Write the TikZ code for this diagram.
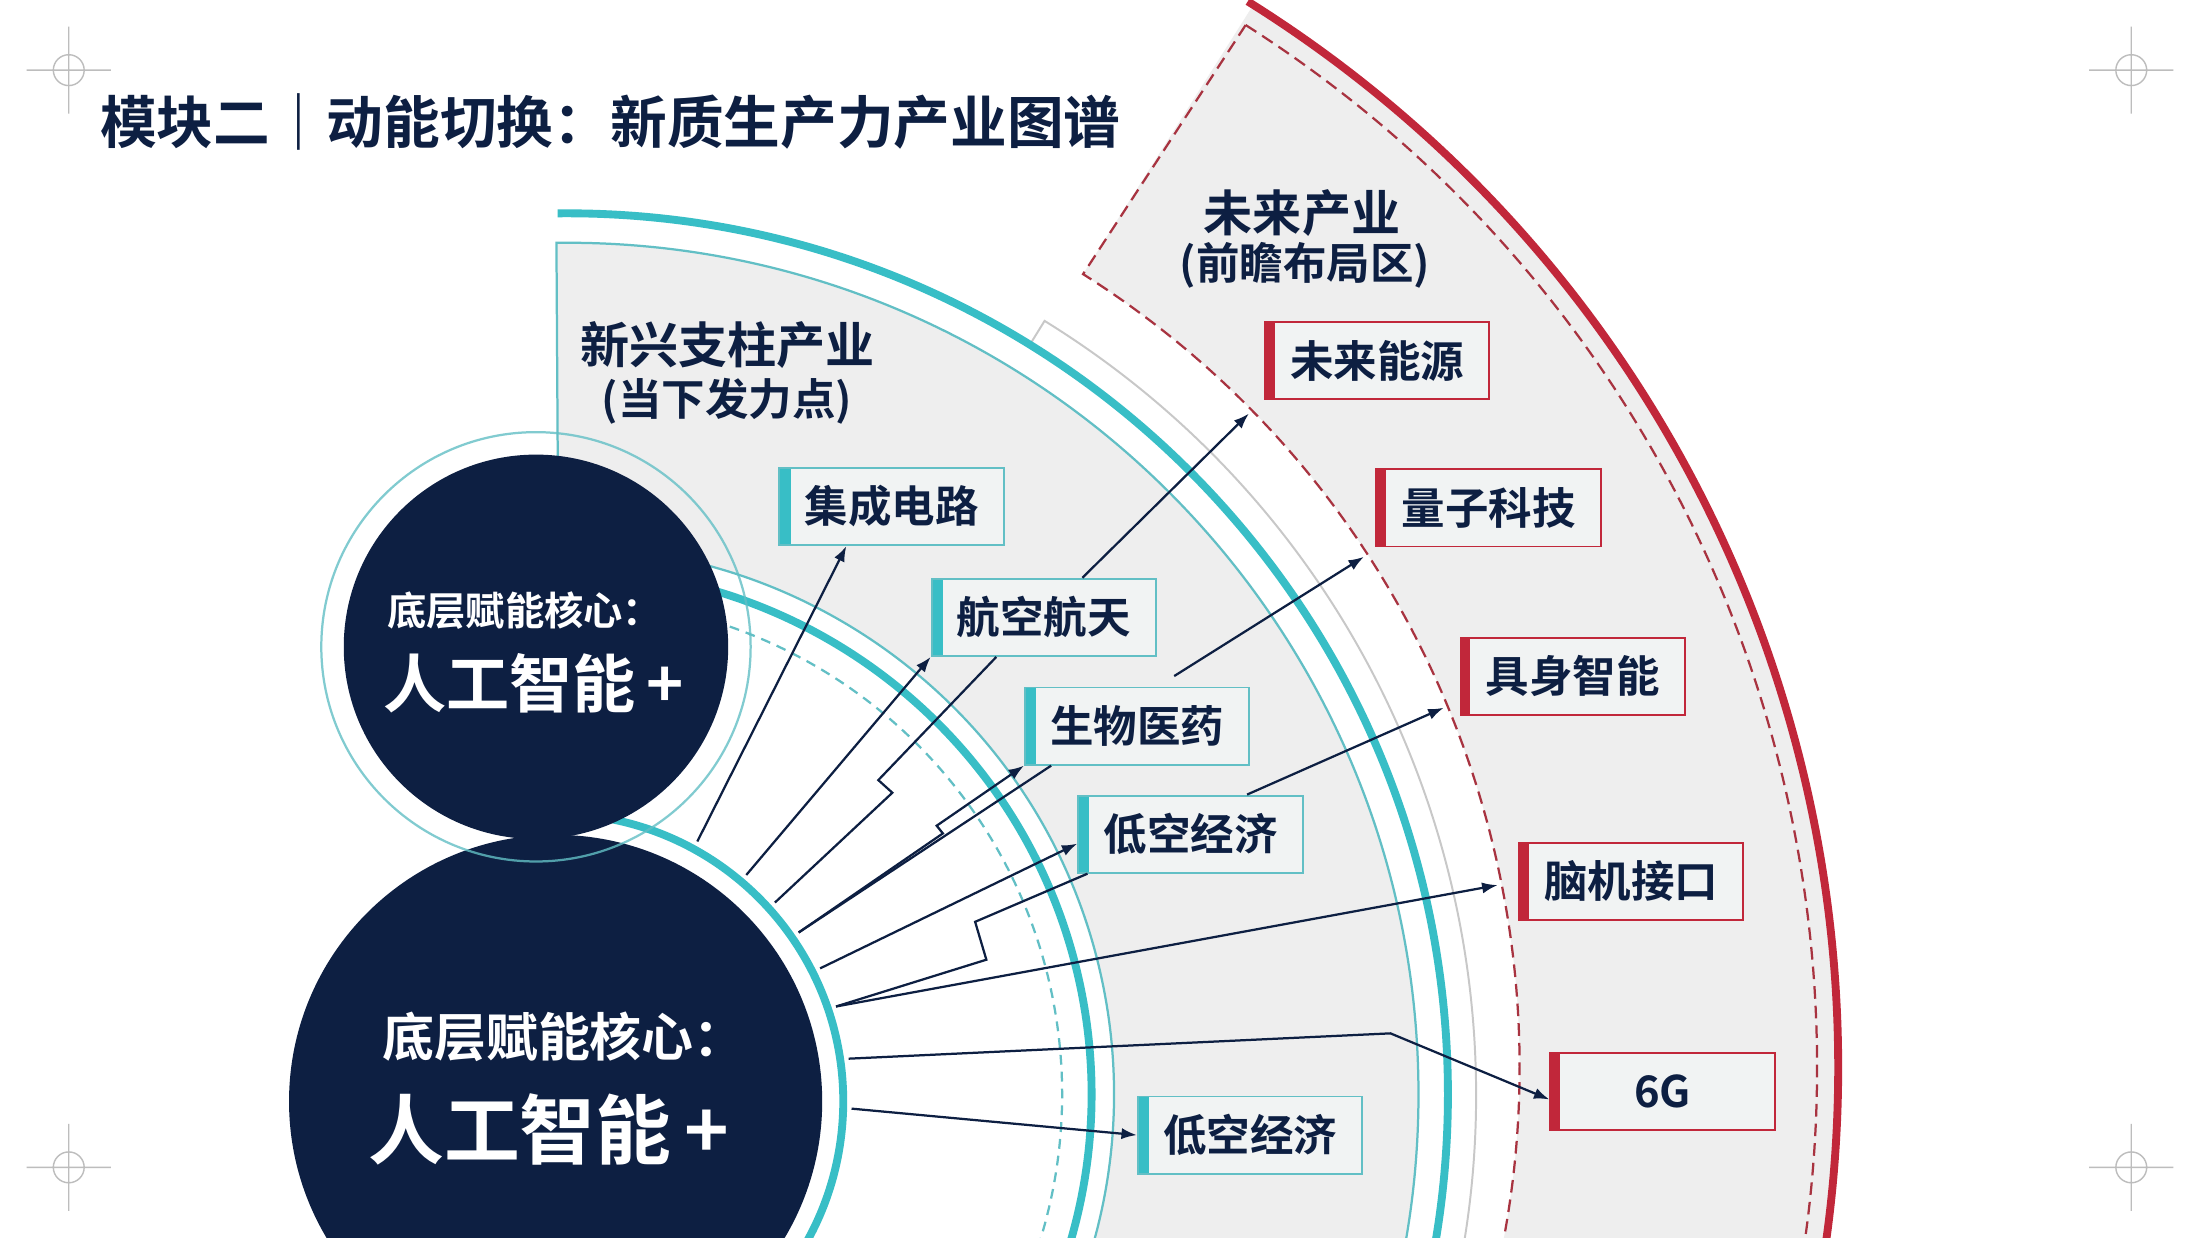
\documentclass[tikz,border=0pt]{standalone}
\usepackage{fontspec}
\setmainfont{Noto Sans CJK SC}[BoldFont={Noto Sans CJK SC Bold}]
\usetikzlibrary{arrows.meta,calc}
\definecolor{navy}{HTML}{0D1F42}
\definecolor{tealc}{HTML}{38BEC6}
\definecolor{tealthin}{HTML}{62BFC5}
\definecolor{redc}{HTML}{C1273A}
\definecolor{dashred}{HTML}{A83340}
\definecolor{panel}{HTML}{EEEEEE}
\definecolor{boxfill}{HTML}{F1F3F3}
\definecolor{arcgray}{HTML}{C8C8C8}
\definecolor{markgray}{HTML}{BDBDBD}

\begin{document}
\begin{tikzpicture}[x=0.5pt, y=-0.5pt, font=\bfseries,
  tealline/.style={draw=tealthin, line width=0.8pt},
  tealband/.style={draw=tealc, line width=2.8pt},
  tealdash/.style={draw=tealthin, line width=0.8pt, dash pattern=on 3.5pt off 2.5pt},
  redband/.style={draw=redc, line width=2.8pt},
  reddash/.style={draw=dashred, line width=0.8pt, dash pattern=on 4.5pt off 2.5pt},
  cropmark/.style={draw=markgray, line width=0.5pt},
  industry/.style={minimum width=80pt, minimum height=27.5pt, inner sep=0pt, line width=0.7pt,
    fill=boxfill, text=navy, font=\fontsize{15.5}{18}\selectfont\bfseries},
  tealbox/.style={industry, draw=tealthin, path picture={\fill[tealc] (path picture bounding box.north west)
    rectangle ([xshift=4pt]path picture bounding box.south west);}},
  redbox/.style={industry, draw=redc, path picture={\fill[redc] (path picture bounding box.north west)
    rectangle ([xshift=3.5pt]path picture bounding box.south west);}},
  zonetitle/.style={text=navy, inner sep=0pt, font=\fontsize{17.5}{20}\selectfont\bfseries},
  zonenote/.style={text=navy, inner sep=0pt, font=\fontsize{15.5}{18}\selectfont\bfseries},
  coretext/.style={text=white, inner sep=0pt},
  arr/.style={draw=navy, line width=0.8pt, -{Latex[length=5.5pt,width=4pt]}},
  link/.style={draw=navy, line width=0.8pt}]
\useasboundingbox (0,0) rectangle (1568,882);
\fill[white] (0,0) rectangle (1568,882);
\clip (0,0) rectangle (1568,882);
\coordinate (C) at (404,780);
\coordinate (R0) at (415,760);
\coordinate (B) at (396,785);
\coordinate (S) at (382,461);

\fill[panel] ($(R0)+(-57.7:668)$) arc[start angle=-57.7, end angle=95, radius=668]
  -- ($(R0)+(95:895)$) arc[start angle=95, end angle=-57.7, radius=895] -- cycle;
\fill[panel] ($(C)+(-90.7:607)$) arc[start angle=-90.7, end angle=95, radius=607]
  -- ($(C)+(95:390)$) arc[start angle=95, end angle=-91, radius=390] -- cycle;
\draw[reddash] ($(R0)+(-57.5:880)$) -- ($(R0)+(-57.7:668)$) arc[start angle=-57.7, end angle=95, radius=668];
\draw[reddash] ($(R0)+(-57.5:880)$) arc[start angle=-57.5, end angle=95, radius=880];
\draw[redband] ($(R0)+(-58:895)$) arc[start angle=-58, end angle=95, radius=895];
\draw[arcgray, line width=0.7pt] ($(C)+(-58.3:628)$) -- ($(C)+(-58.3:648)$) arc[start angle=-58.3, end angle=95, radius=648];
\draw[tealline] ($(C)+(-91:330)$) -- ($(C)+(-90.7:607)$) arc[start angle=-90.7, end angle=95, radius=607];
\draw[tealband] ($(C)+(-90.6:628)$) arc[start angle=-90.6, end angle=95, radius=628];
\draw[tealdash] ($(C)+(-100:353)$) arc[start angle=-100, end angle=95, radius=353];
\draw[tealband] ($(C)+(-100:374)$) arc[start angle=-100, end angle=95, radius=374];
\draw[tealline] ($(C)+(-100:390)$) arc[start angle=-100, end angle=95, radius=390];
\draw[tealband] ($(B)+(-85:205)$) arc[start angle=-85, end angle=95, radius=205];
\fill[navy] (B) circle (190);
\fill[navy] (S) circle (137);
\draw[tealline, draw opacity=0.8] (S) circle (153);

\node[coretext, font=\fontsize{14}{16}\selectfont\bfseries] (smalltop) at (374,435) {底层赋能核心：};
\node[coretext, font=\fontsize{22.5}{26}\selectfont\bfseries] (smallmain) at (380,487) {人工智能\,+};
\node[coretext, font=\fontsize{18.5}{22}\selectfont\bfseries] (bigtop) at (402,739) {底层赋能核心：};
\node[coretext, font=\fontsize{27}{30}\selectfont\bfseries] (bigmain) at (391,805) {人工智能\,+};

\node[zonetitle] (pillar) at (518.5,246) {新兴支柱产业};
\node[zonenote] (pillarnote) at (518,286) {(当下发力点)};
\node[zonetitle] (future) at (928,152) {未来产业};
\node[zonenote] (futurenote) at (930,189) {(前瞻布局区)};

\node[tealbox] (jc) at (635.5,361) {集成电路};
\node[tealbox] (hk) at (744,440) {航空航天};
\node[tealbox] (sw) at (810.5,517.5) {生物医药};
\node[tealbox] (dk) at (848.5,594.5) {低空经济};
\node[tealbox] (dk2) at (891,809) {低空经济};
\node[redbox] (wl) at (981.5,257) {未来能源};
\node[redbox] (lz) at (1061,362) {量子科技};
\node[redbox] (js) at (1121,482) {具身智能};
\node[redbox] (nj) at (1162.5,628) {脑机接口};
\node[redbox] (sixg) at (1185,778) {6G};

\coordinate (o1) at ($(B)+(-61.4:211)$);
\coordinate (o2) at ($(B)+(-49.9:211)$);
\coordinate (o3) at ($(B)+(-42.2:211)$);
\coordinate (o4) at ($(B)+(-34.8:211)$);
\coordinate (o6) at ($(B)+(-26.7:211)$);
\coordinate (o8) at ($(B)+(-18.7:211)$);
\coordinate (o9) at ($(B)+(-8.3:211)$);
\coordinate (o10) at ($(B)+(1.4:211)$);
\coordinate (t1) at ($(R0)+(-44.4:665)$);
\coordinate (t2) at ($(R0)+(-33.1:665)$);
\coordinate (t3) at ($(R0)+(-22.6:665)$);
\coordinate (t4) at ($(R0)+(-11.2:665)$);

\draw[arr] (o1) -- ($(jc.south west)!0.3!(jc.south east)$);
\draw[arr] (o2) -- (hk.south west);
\draw[link] (o3) -- (636,565) -- (626,556) -- ($(hk.south west)!0.29!(hk.south east)$);
\draw[arr] (o4) -- (672,594) -- (667.6,588.5) -- (sw.south west);
\draw[link] (o4) -- ($(sw.south west)!0.12!(sw.south east)$);
\draw[arr] (o6) -- ($(dk.north west)!0.62!(dk.south west)$);
\draw[link] (o8) -- (703,684) -- (695,657) -- ($(dk.south west)!0.045!(dk.south east)$);
\draw[arr] (o8) -- (t4);
\draw[arr] (o9) -- (991,736.5) -- ($(sixg.north west)!0.6!(sixg.south west)$);
\draw[arr] (o10) -- (dk2.west);
\draw[arr] ($(hk.north west)!0.67!(hk.north east)$) -- (t1);
\draw[arr, shorten <=7pt] ($(sw.north west)!0.59!(sw.north east)$) -- (t2);
\draw[arr] ($(dk.north west)!0.75!(dk.north east)$) -- (t3);

\node[anchor=west, inner sep=0pt, text=navy, font=\fontsize{20.2}{24}\selectfont\bfseries] (title) at (71,87)
  {模块二｜动能切换：新质生产力产业图谱};
\foreach \p in {(49,50),(1519,50),(49,832),(1519,832)}
  \draw[cropmark] \p circle (11) \p +(-30,0) -- +(30,0) \p +(0,-31) -- +(0,31);
\end{tikzpicture}
\end{document}
